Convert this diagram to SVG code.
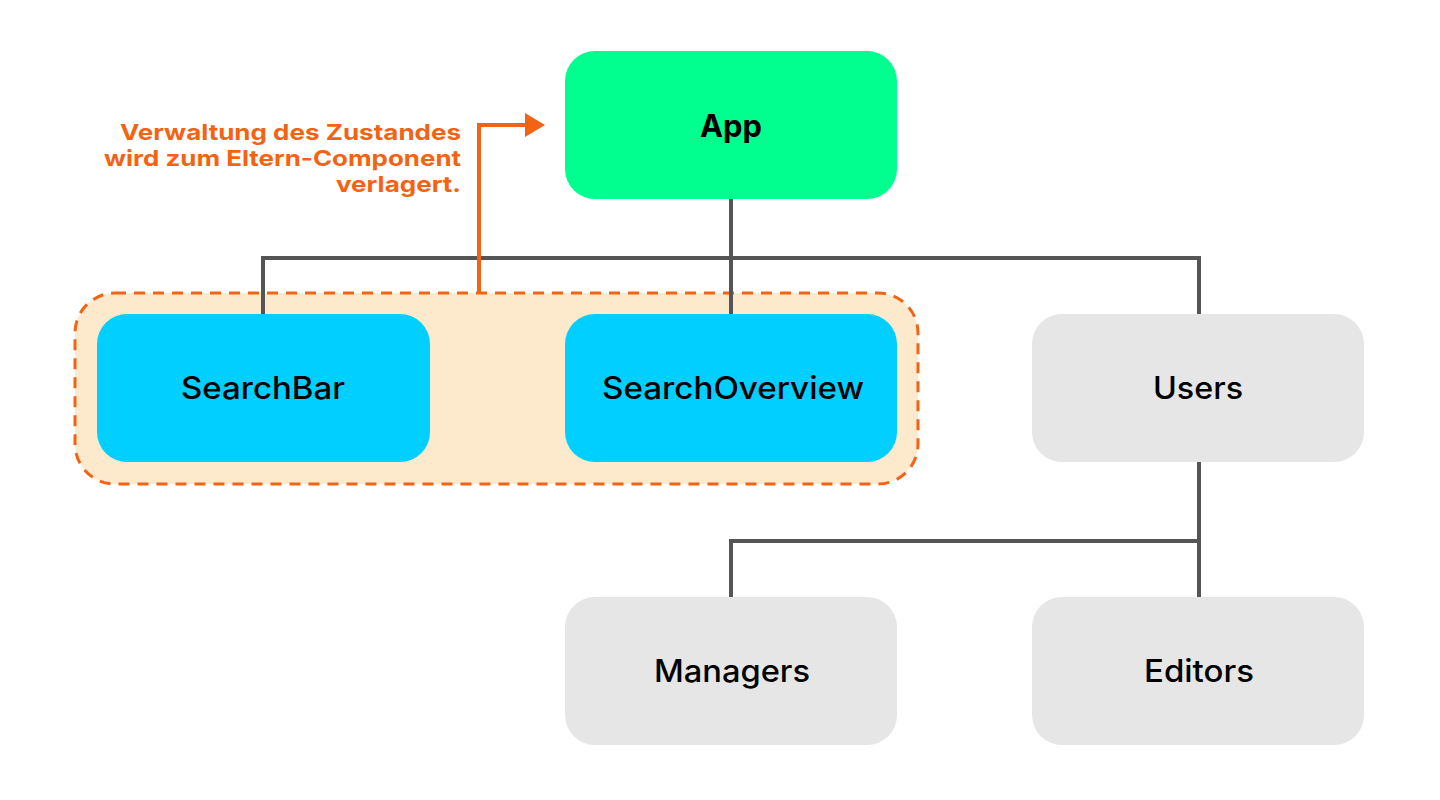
<svg xmlns="http://www.w3.org/2000/svg" width="1440" height="800" viewBox="0 0 1440 800">
<defs>
<style>
.node{stroke:none}
.lbl{font-family:Inter,"Noto Sans","Liberation Sans",sans-serif;font-size:31px;fill:#000;text-anchor:middle;font-weight:500}
.conn{fill:none;stroke:#555;stroke-width:4}
.note{font-family:Inter,"Noto Sans","Liberation Sans",sans-serif;font-size:22px;font-weight:700;fill:#f26414;text-anchor:end}
</style>
<marker id="arr" markerWidth="6" markerHeight="6" refX="1" refY="3" orient="auto" markerUnits="strokeWidth">
<path d="M0,0 L5,3 L0,6 Z" fill="#f26414"/>
</marker>
</defs>
<rect width="1440" height="800" fill="#fff"/>
<g id="group">
<rect x="75" y="293" width="843" height="191" rx="40" fill="#fde9cc" stroke="#f26414" stroke-width="3" stroke-dasharray="11 8"/>
</g>
<g id="connectors">
<path class="conn" d="M731,199 V314"/>
<path class="conn" d="M263,314 V258 H1199 V314"/>
<path class="conn" d="M1199,462 V597"/>
<path class="conn" d="M731,597 V541 H1199"/>
<path d="M479,293 V125 H529" fill="none" stroke="#f26414" stroke-width="4" marker-end="url(#arr)"/>
</g>
<g id="note">
<text class="note" x="461" y="140" textLength="341" lengthAdjust="spacingAndGlyphs">Verwaltung des Zustandes</text>
<text class="note" x="461" y="166" textLength="357" lengthAdjust="spacingAndGlyphs">wird zum Eltern-Component</text>
<text class="note" x="461" y="192" textLength="125" lengthAdjust="spacingAndGlyphs">verlagert.</text>
</g>
<g id="app">
<rect class="node" x="565" y="51" width="332" height="148" rx="30" fill="#00ff8f"/>
<text class="lbl" x="731" y="137" style="font-weight:700" textLength="62" lengthAdjust="spacingAndGlyphs">App</text>
</g>
<g id="searchbar">
<rect class="node" x="97" y="314" width="333" height="148" rx="30" fill="#00cfff"/>
<text class="lbl" x="263" y="399" textLength="164" lengthAdjust="spacingAndGlyphs">SearchBar</text>
</g>
<g id="searchoverview">
<rect class="node" x="565" y="314" width="332" height="148" rx="30" fill="#00cfff"/>
<text class="lbl" x="733" y="399" textLength="262" lengthAdjust="spacingAndGlyphs">SearchOverview</text>
</g>
<g id="users">
<rect class="node" x="1032" y="314" width="332" height="148" rx="30" fill="#e6e6e6"/>
<text class="lbl" x="1198" y="399" textLength="90" lengthAdjust="spacingAndGlyphs">Users</text>
</g>
<g id="managers">
<rect class="node" x="565" y="597" width="332" height="148" rx="30" fill="#e6e6e6"/>
<text class="lbl" x="732" y="682" textLength="156" lengthAdjust="spacingAndGlyphs">Managers</text>
</g>
<g id="editors">
<rect class="node" x="1032" y="597" width="332" height="148" rx="30" fill="#e6e6e6"/>
<text class="lbl" x="1199" y="682" textLength="110" lengthAdjust="spacingAndGlyphs">Editors</text>
</g>
</svg>
